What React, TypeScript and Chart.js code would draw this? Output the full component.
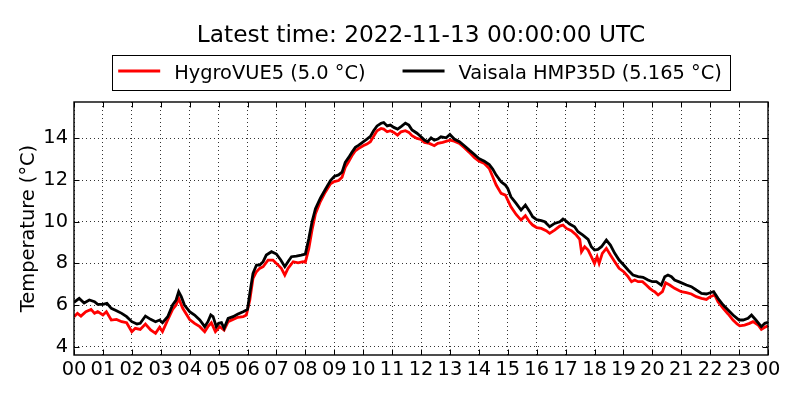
import React, { useEffect, useRef } from "react";
import { Chart, ChartConfiguration, Plugin, registerables } from "chart.js";

Chart.register(...registerables);

const FONT = "DejaVu Sans";

const titleText = "Latest time: 2022-11-13 00:00:00 UTC";
const seriesNames = ["HygroVUE5", "Vaisala HMP35D"];
const latestValues = ["5.0", "5.165"];
const seriesColors = ["#ff0000", "#000000"];
const yAxisLabel = "Temperature (°C)";

const xTickHours = [0, 1, 2, 3, 4, 5, 6, 7, 8, 9, 10, 11, 12, 13, 14, 15, 16, 17, 18, 19, 20, 21, 22, 23, 24];
const xTickLabels = [
  "00", "01", "02", "03", "04", "05", "06", "07", "08", "09", "10", "11",
  "12", "13", "14", "15", "16", "17", "18", "19", "20", "21", "22", "23", "00",
];
const yTicks = [4, 6, 8, 10, 12, 14];

// HygroVUE5 (red)
const hygroHours = [
  0, 0.12, 0.24, 0.41, 0.59, 0.71, 0.82, 1.0, 1.12, 1.29, 1.47, 1.65, 1.82, 2.0, 2.12, 2.29, 2.47, 2.65,
  2.82, 2.96, 3.06, 3.24, 3.41, 3.53, 3.62, 3.76, 4.0, 4.17, 4.35, 4.52, 4.63, 4.75, 4.89, 5.04, 5.19,
  5.33, 5.5, 5.67, 5.85, 5.96, 6.08, 6.19, 6.31, 6.42, 6.54, 6.71, 6.88, 7.0, 7.17, 7.29, 7.4, 7.58,
  7.75, 7.92, 8.0, 8.12, 8.23, 8.35, 8.52, 8.69, 8.87, 9.0, 9.15, 9.27, 9.38, 9.5, 9.61, 9.73, 9.85,
  10.0, 10.13, 10.25, 10.36, 10.48, 10.62, 10.71, 10.83, 10.94, 11.06, 11.19, 11.31, 11.46, 11.58,
  11.69, 11.86, 12.0, 12.12, 12.29, 12.46, 12.58, 12.75, 13.0, 13.15, 13.33, 13.5, 13.67, 13.85, 14.0,
  14.19, 14.36, 14.48, 14.6, 14.77, 14.92, 15.0, 15.11, 15.29, 15.46, 15.61, 15.75, 15.86, 16.0, 16.16,
  16.33, 16.45, 16.62, 16.8, 16.91, 17.03, 17.2, 17.37, 17.49, 17.55, 17.66, 17.78, 17.89, 18.0, 18.09,
  18.16, 18.27, 18.41, 18.55, 18.7, 18.85, 19.01, 19.16, 19.28, 19.39, 19.51, 19.66, 19.79, 19.91, 20.0,
  20.08, 20.2, 20.35, 20.46, 20.6, 20.77, 21.0, 21.18, 21.35, 21.52, 21.7, 21.87, 22.0, 22.16, 22.27,
  22.45, 22.62, 22.79, 22.93, 23.02, 23.19, 23.36, 23.48, 23.66, 23.77, 23.89, 24.0,
];
const hygroTemps = [
  5.44, 5.6, 5.47, 5.68, 5.79, 5.6, 5.68, 5.52, 5.68, 5.28, 5.31, 5.2, 5.15, 4.72, 4.88, 4.83, 5.09, 4.8,
  4.64, 4.93, 4.72, 5.28, 5.79, 6.0, 6.32, 5.84, 5.3, 5.12, 4.96, 4.72, 4.96, 5.15, 4.72, 4.96, 4.8,
  5.2, 5.31, 5.41, 5.44, 5.52, 6.24, 7.28, 7.6, 7.76, 7.84, 8.16, 8.16, 8.0, 7.76, 7.44, 7.76, 8.08,
  8.03, 8.08, 8.05, 8.71, 9.59, 10.39, 10.97, 11.42, 11.82, 11.93, 11.98, 12.14, 12.61, 12.89, 13.17, 13.41, 13.52,
  13.65, 13.73, 13.84, 14.1, 14.37, 14.48, 14.45, 14.32, 14.37, 14.29, 14.16, 14.32, 14.37, 14.29,
  14.13, 14.0, 13.95, 13.81, 13.76, 13.65, 13.76, 13.81, 13.92, 13.87, 13.76, 13.55, 13.33, 13.07, 12.91,
  12.8, 12.56, 12.16, 11.76, 11.36, 11.28, 11.04, 10.72, 10.35, 10.08, 10.29, 10.0, 9.84, 9.72, 9.68,
  9.57, 9.44, 9.6, 9.79, 9.84, 9.68, 9.57, 9.36, 9.15, 8.56, 8.8, 8.64, 8.32, 8.0, 8.32,
  8.0, 8.48, 8.72, 8.4, 8.08, 7.76, 7.6, 7.36, 7.12, 7.2, 7.12, 7.12, 6.96, 6.8, 6.7,
  6.64, 6.48, 6.64, 7.07, 6.96, 6.8, 6.64, 6.59, 6.53, 6.4, 6.32, 6.27, 6.4, 6.48, 6.16,
  5.84, 5.57, 5.28, 5.09, 5.0, 5.04, 5.12, 5.2, 5.04, 4.83, 4.93, 5.0,
];

// Vaisala HMP35D (black)
const vaisalaHours = [
  0, 0.18, 0.35, 0.53, 0.71, 0.82, 1.0, 1.14, 1.29, 1.47, 1.65, 1.82, 2.0, 2.18, 2.29, 2.47, 2.65, 2.82,
  2.96, 3.06, 3.24, 3.41, 3.53, 3.62, 3.71, 3.82, 4.0, 4.17, 4.35, 4.52, 4.63, 4.73, 4.81, 4.92, 5.0,
  5.1, 5.19, 5.33, 5.5, 5.67, 5.85, 6.0, 6.08, 6.19, 6.31, 6.42, 6.54, 6.65, 6.83, 7.0, 7.15, 7.29,
  7.4, 7.52, 7.69, 7.86, 8.0, 8.12, 8.23, 8.35, 8.52, 8.69, 8.87, 9.0, 9.15, 9.27, 9.38, 9.5, 9.61,
  9.73, 9.85, 10.0, 10.13, 10.25, 10.36, 10.48, 10.62, 10.71, 10.83, 10.94, 11.06, 11.19, 11.31, 11.46,
  11.58, 11.69, 11.86, 12.0, 12.12, 12.23, 12.35, 12.46, 12.58, 12.69, 12.87, 13.0, 13.15, 13.33, 13.5,
  13.67, 13.85, 14.0, 14.19, 14.36, 14.48, 14.6, 14.77, 14.92, 15.0, 15.11, 15.29, 15.46, 15.61, 15.75,
  15.86, 16.0, 16.16, 16.28, 16.45, 16.62, 16.8, 16.91, 17.0, 17.14, 17.31, 17.43, 17.6, 17.78, 17.89,
  18.0, 18.12, 18.24, 18.41, 18.55, 18.7, 18.85, 19.01, 19.16, 19.33, 19.51, 19.68, 19.85, 20.0, 20.14,
  20.31, 20.43, 20.54, 20.66, 20.77, 20.95, 21.18, 21.35, 21.52, 21.7, 21.87, 22.0, 22.12, 22.27, 22.45,
  22.62, 22.79, 22.93, 23.0, 23.14, 23.31, 23.43, 23.58, 23.77, 23.89, 24.0,
];
const vaisalaTemps = [
  6.13, 6.32, 6.1, 6.24, 6.16, 6.03, 6.03, 6.08, 5.84, 5.73, 5.6, 5.44, 5.2, 5.09, 5.12, 5.47, 5.31, 5.2,
  5.28, 5.15, 5.44, 6.0, 6.24, 6.64, 6.4, 6.0, 5.68, 5.52, 5.28, 4.96, 5.2, 5.52, 5.44, 4.96, 5.12,
  5.15, 4.88, 5.36, 5.44, 5.57, 5.68, 5.79, 6.56, 7.52, 7.92, 7.92, 8.08, 8.4, 8.56, 8.45, 8.16, 7.84,
  8.08, 8.32, 8.35, 8.4, 8.45, 9.19, 9.99, 10.62, 11.13, 11.55, 11.98, 12.18, 12.25, 12.38, 12.85, 13.09, 13.33,
  13.57, 13.68, 13.84, 13.97, 14.1, 14.37, 14.6, 14.73, 14.76, 14.6, 14.64, 14.53, 14.45, 14.57, 14.73,
  14.64, 14.41, 14.25, 14.08, 13.92, 13.84, 14.03, 13.92, 13.97, 14.08, 14.03, 14.19, 13.97, 13.84, 13.65,
  13.44, 13.23, 13.04, 12.91, 12.75, 12.53, 12.24, 11.92, 11.76, 11.6, 11.2, 10.88, 10.56, 10.8, 10.51,
  10.24, 10.1, 10.05, 10.0, 9.76, 9.92, 10.0, 10.13, 10.05, 9.89, 9.76, 9.52, 9.36, 9.15, 8.8,
  8.64, 8.67, 8.8, 9.12, 8.88, 8.48, 8.16, 7.92, 7.68, 7.44, 7.36, 7.33, 7.2, 7.12, 7.12,
  6.96, 7.36, 7.44, 7.36, 7.2, 7.1, 6.96, 6.88, 6.72, 6.56, 6.53, 6.59, 6.64, 6.32, 6.0,
  5.76, 5.52, 5.36, 5.28, 5.28, 5.36, 5.52, 5.28, 4.96, 5.12, 5.17,
];

const toPoints = (xs: number[], ys: number[]) => xs.map((x, i) => ({ x, y: ys[i] }));

// frame with inward ticks on all four sides, plus title and boxed legend
const decorPlugin: Plugin = {
  id: "decor",
  afterDatasetsDraw(chart) {
    const { ctx, chartArea: a } = chart;
    const xs = chart.scales.x;
    const ys = chart.scales.y;
    const tl = 5.5;
    ctx.save();
    ctx.strokeStyle = "#000";
    ctx.lineWidth = 1;
    ctx.beginPath();
    xTickHours.forEach((h) => {
      const px = Math.round(xs.getPixelForValue(h)) + 0.5;
      ctx.moveTo(px, a.bottom);
      ctx.lineTo(px, a.bottom - tl);
      ctx.moveTo(px, a.top);
      ctx.lineTo(px, a.top + tl);
    });
    yTicks.forEach((v) => {
      const py = Math.round(ys.getPixelForValue(v)) + 0.5;
      ctx.moveTo(a.left, py);
      ctx.lineTo(a.left + tl, py);
      ctx.moveTo(a.right, py);
      ctx.lineTo(a.right - tl, py);
    });
    ctx.stroke();
    ctx.lineWidth = 1.4;
    ctx.strokeRect(a.left, a.top, a.right - a.left, a.bottom - a.top);
    ctx.restore();
  },
  afterDraw(chart) {
    const { ctx, chartArea: a } = chart;
    const cx = (a.left + a.right) / 2;
    ctx.save();
    ctx.fillStyle = "#000";
    ctx.textBaseline = "alphabetic";
    ctx.textAlign = "center";
    ctx.font = `23.3px "${FONT}"`;
    ctx.fillText(titleText, cx, 41.5);

    // legend
    ctx.font = `19.4px "${FONT}"`;
    ctx.textAlign = "left";
    const labels = seriesNames.map((n, i) => `${n} (${latestValues[i]} °C)`);
    const widths = labels.map((l) => ctx.measureText(l).width);
    const padL = 6, padR = 8, handle = 42, gap = 14, entryGap = 37;
    const total =
      padL + padR + widths.reduce((s, w) => s + w + handle + gap, 0) + entryGap * (labels.length - 1);
    const boxL = cx - total / 2;
    const boxT = 55.5, boxB = 90.5;
    ctx.lineWidth = 1;
    ctx.strokeStyle = "#000";
    ctx.strokeRect(Math.round(boxL) + 0.5, boxT, Math.round(total), boxB - boxT);
    let x = boxL + padL;
    labels.forEach((l, i) => {
      ctx.strokeStyle = seriesColors[i];
      ctx.lineWidth = 2.8;
      ctx.beginPath();
      ctx.moveTo(x, 71);
      ctx.lineTo(x + handle, 71);
      ctx.stroke();
      x += handle + gap;
      ctx.fillText(l, x, 78.5);
      x += widths[i] + entryGap;
    });
    ctx.restore();
  },
};

const tickFont = { family: FONT, size: 19.4 };

const config: ChartConfiguration = {
  type: "line",
  data: {
    datasets: [
      {
        label: seriesNames[0],
        data: toPoints(hygroHours, hygroTemps),
        borderColor: seriesColors[0],
        backgroundColor: seriesColors[0],
        borderWidth: 2.8,
        pointRadius: 0,
        tension: 0,
        fill: false,
        order: 2,
      },
      {
        label: seriesNames[1],
        data: toPoints(vaisalaHours, vaisalaTemps),
        borderColor: seriesColors[1],
        backgroundColor: seriesColors[1],
        borderWidth: 2.8,
        pointRadius: 0,
        tension: 0,
        fill: false,
        order: 1,
      },
    ],
  },
  options: {
    animation: false,
    responsive: false,
    devicePixelRatio: 1,
    layout: { padding: { top: 102, right: 32, bottom: 0, left: 0 } },
    plugins: {
      legend: { display: false },
      title: { display: false },
      tooltip: { enabled: false },
    },
    scales: {
      x: {
        type: "linear",
        min: 0,
        max: 24,
        afterBuildTicks: (s) => {
          s.ticks = xTickHours.map((v) => ({ value: v }));
        },
        afterFit: (s) => {
          s.height = 45;
        },
        ticks: {
          autoSkip: false,
          maxRotation: 0,
          padding: 3,
          color: "#000",
          font: tickFont,
          callback: (_v, i) => xTickLabels[i],
        },
        grid: { color: "rgba(0,0,0,0.8)", lineWidth: 1, drawTicks: false },
        border: { display: false, dash: [1, 3] },
      },
      y: {
        type: "linear",
        min: 3.6,
        max: 15.75,
        afterBuildTicks: (s) => {
          s.ticks = yTicks.map((v) => ({ value: v }));
        },
        afterFit: (s) => {
          s.width = 74;
        },
        ticks: {
          padding: 6,
          color: "#000",
          font: tickFont,
          callback: (v) => String(v),
        },
        title: {
          display: true,
          text: yAxisLabel,
          color: "#000",
          font: tickFont,
          padding: { top: 17, bottom: 0 },
        },
        grid: { color: "rgba(0,0,0,0.8)", lineWidth: 1, drawTicks: false },
        border: { display: false, dash: [1, 3] },
      },
    },
  },
  plugins: [decorPlugin],
};

export default function App() {
  const chartRef = useRef<HTMLCanvasElement | null>(null);

  useEffect(() => {
    document.body.style.margin = "0";
    if (!chartRef.current) {
      return;
    }
    const chartInstance = new Chart(chartRef.current, config);
    return () => {
      chartInstance.destroy();
    };
  }, [chartRef]);

  return (
    <div style={{ width: 800, height: 400, background: "#fff" }}>
      <canvas ref={chartRef} width={800} height={400}></canvas>
    </div>
  );
}
